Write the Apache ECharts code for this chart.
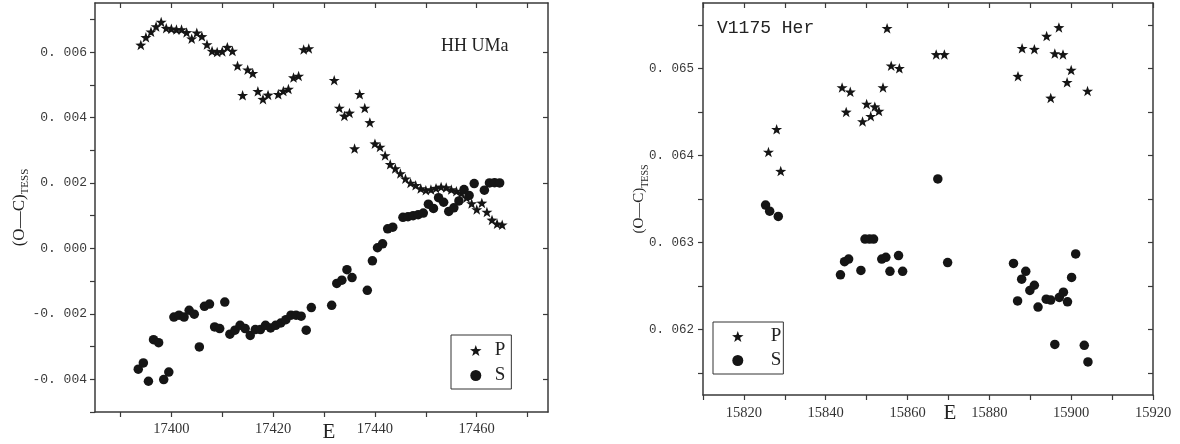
<!DOCTYPE html>
<html>
<head>
<meta charset="utf-8">
<script src="https://cdn.jsdelivr.net/npm/echarts@6/dist/echarts.min.js"></script>
<style>
  html, body { margin: 0; padding: 0; background: #fff; }
  #chart { width: 1180px; height: 444px; }
</style>
</head>
<body>
<div id="chart"></div>
<script>
// HH UMa - primary minima (stars)
const hhPrimaryE = [17394, 17395, 17396, 17397, 17398, 17399, 17400, 17401, 17402, 17403,
  17404, 17405, 17406, 17407, 17408, 17409, 17410, 17411, 17412, 17413,
  17414, 17415, 17416, 17417, 17418, 17419, 17421, 17422, 17423, 17424,
  17425, 17426, 17427, 17432, 17433, 17434, 17435, 17436, 17437, 17438,
  17439, 17440, 17441, 17442, 17443, 17444, 17445, 17446, 17447, 17448,
  17449, 17450, 17451, 17452, 17453, 17454, 17455, 17456, 17457, 17458,
  17459, 17460, 17461, 17462, 17463, 17464, 17465];
const hhPrimaryOC = [0.00622, 0.00645, 0.00662, 0.00678, 0.00692, 0.00673, 0.00671, 0.00669, 0.00669, 0.00660,
  0.00641, 0.00659, 0.00648, 0.00623, 0.00603, 0.00600, 0.00602, 0.00615, 0.00603, 0.00558,
  0.00468, 0.00546, 0.00535, 0.00480, 0.00456, 0.00469, 0.00471, 0.00481, 0.00487, 0.00522,
  0.00527, 0.00608, 0.00611, 0.00514, 0.00429, 0.00405, 0.00414, 0.00305, 0.00471, 0.00429,
  0.00385, 0.00320, 0.00310, 0.00284, 0.00257, 0.00244, 0.00229, 0.00213, 0.00200, 0.00193,
  0.00183, 0.00178, 0.00180, 0.00184, 0.00188, 0.00186, 0.00180, 0.00175, 0.00169, 0.00155,
  0.00137, 0.00119, 0.00139, 0.00111, 0.00087, 0.00075, 0.00072];

// HH UMa - secondary minima (circles)
const hhSecondaryE = [17393.5, 17394.5, 17395.5, 17396.5, 17397.5, 17398.5, 17399.5, 17400.5, 17401.5, 17402.5,
  17403.5, 17404.5, 17405.5, 17406.5, 17407.5, 17408.5, 17409.5, 17410.5, 17411.5, 17412.5,
  17413.5, 17414.5, 17415.5, 17416.5, 17417.5, 17418.5, 17419.5, 17420.5, 17421.5, 17422.5,
  17423.5, 17424.5, 17425.5, 17426.5, 17427.5, 17431.5, 17432.5, 17433.5, 17434.5, 17435.5,
  17438.5, 17439.5, 17440.5, 17441.5, 17442.5, 17443.5, 17445.5, 17446.5, 17447.5, 17448.5,
  17449.5, 17450.5, 17451.5, 17452.5, 17453.5, 17454.5, 17455.5, 17456.5, 17457.5, 17458.5,
  17459.5, 17461.5, 17462.5, 17463.5, 17464.5];
const hhSecondaryOC = [-0.00369, -0.00350, -0.00406, -0.00279, -0.00288, -0.00401, -0.00378, -0.00210, -0.00204, -0.00210,
  -0.00189, -0.00201, -0.00301, -0.00177, -0.00170, -0.00240, -0.00245, -0.00164, -0.00262, -0.00250,
  -0.00235, -0.00245, -0.00266, -0.00248, -0.00248, -0.00235, -0.00243, -0.00235, -0.00228, -0.00218,
  -0.00204, -0.00204, -0.00207, -0.00250, -0.00181, -0.00174, -0.00107, -0.00097, -0.00065, -0.00089,
  -0.00128, -0.00038, 0.00002, 0.00014, 0.00060, 0.00065, 0.00095, 0.00097, 0.00100, 0.00103,
  0.00108, 0.00135, 0.00122, 0.00155, 0.00141, 0.00113, 0.00124, 0.00145, 0.00180, 0.00162,
  0.00198, 0.00178, 0.00200, 0.00201, 0.00200];

// V1175 Her - primary minima (stars)
const herPrimaryE = [15826, 15828, 15829, 15844, 15845, 15846, 15849, 15850, 15851, 15852,
  15853, 15854, 15855, 15856, 15858, 15867, 15869, 15887, 15888, 15891,
  15894, 15895, 15896, 15897, 15898, 15899, 15900, 15904];
const herPrimaryOC = [0.06404, 0.06430, 0.06382, 0.06478, 0.06450, 0.06473, 0.06439, 0.06459, 0.06445, 0.06456,
  0.06451, 0.06478, 0.06546, 0.06503, 0.06500, 0.06516, 0.06516, 0.06491, 0.06523, 0.06522,
  0.06537, 0.06466, 0.06517, 0.06547, 0.06516, 0.06484, 0.06498, 0.06474];

// V1175 Her - secondary minima (circles)
const herSecondaryE = [15825.3, 15826.3, 15828.4, 15843.6, 15844.6, 15845.6, 15848.6, 15849.6, 15850.7, 15851.7,
  15853.7, 15854.7, 15855.7, 15857.8, 15858.8, 15867.4, 15869.8, 15885.9, 15886.9, 15887.9,
  15888.9, 15889.9, 15891.0, 15891.9, 15893.9, 15895.0, 15896.0, 15897.1, 15898.1, 15899.1,
  15900.1, 15901.1, 15903.2, 15904.1];
const herSecondaryOC = [0.06343, 0.06336, 0.06330, 0.06263, 0.06278, 0.06281, 0.06268, 0.06304, 0.06304, 0.06304,
  0.06281, 0.06283, 0.06267, 0.06285, 0.06267, 0.06373, 0.06277, 0.06276, 0.06233, 0.06258,
  0.06267, 0.06245, 0.06251, 0.06226, 0.06235, 0.06234, 0.06183, 0.06237, 0.06243, 0.06232,
  0.06260, 0.06287, 0.06182, 0.06163];

// axis ticks / labels
const hhXTicks = [17390, 17400, 17410, 17420, 17430, 17440, 17450, 17460, 17470];
const hhXLabels = [17400, 17420, 17440, 17460];
const hhYTicks = [-0.005, -0.004, -0.003, -0.002, -0.001, 0, 0.001, 0.002, 0.003, 0.004, 0.005, 0.006, 0.007];
const hhYLabels = [-0.004, -0.002, 0, 0.002, 0.004, 0.006];
const herXTicks = [15810, 15820, 15830, 15840, 15850, 15860, 15870, 15880, 15890, 15900, 15910, 15920];
const herXLabels = [15820, 15840, 15860, 15880, 15900, 15920];
const herYTicks = [0.0615, 0.062, 0.0625, 0.063, 0.0635, 0.064, 0.0645, 0.065, 0.0655];
const herYLabels = [0.062, 0.063, 0.064, 0.065];

const zip = (a, b) => a.map((v, i) => [v, b[i]]);

const STAR = 'path://M0,-10L2.35,-3.24L9.51,-3.09L3.8,1.24L5.88,8.09L0,4L-5.88,8.09L-3.8,1.24L-9.51,-3.09L-2.35,-3.24Z';
const INK = '#151515';
const AXIS = '#3a3a3a';
const SERIF = 'Liberation Serif';
const MONO = 'Liberation Mono';

const fmtY = v => v.toFixed(3).replace('.', '. ');
const fmtX = v => String(Math.round(v));

function frameAxis(opts) {
    return Object.assign({
        type: 'value',
        scale: true,
        nameMoveOverlap: false,
        axisLine: {show: true, onZero: false, lineStyle: {color: AXIS, width: 1.5}},
        splitLine: {show: false},
        axisTick: {show: true, inside: false, length: 5, lineStyle: {color: AXIS, width: 1.2}},
        axisLabel: {show: false},
    }, opts);
}

// (O-C)_TESS title, subscript done with rich text
function yName(big, small, drop) {
    return {
        name: '{a|(O—C)}{b|TESS}',
        nameLocation: 'middle',
        nameRotate: 90,
        nameTextStyle: {
            rich: {
                a: {fontFamily: SERIF, fontSize: big, color: '#222', verticalAlign: 'top', lineHeight: big + 1},
                b: {fontFamily: SERIF, fontSize: small, color: '#222', verticalAlign: 'top', padding: [drop, 0, 0, 0]}
            }
        }
    };
}

const chart = echarts.init(document.getElementById('chart'), null, {renderer: 'canvas'});

const option = {
    animation: false,
    backgroundColor: '#fff',
    grid: [
        {left: 95, top: 3, width: 453, height: 409, outerBoundsMode: 'none', containLabel: false},
        {left: 703, top: 3, width: 450, height: 392, outerBoundsMode: 'none', containLabel: false}
    ],
    title: [
        {text: 'HH UMa', left: 441, top: 37, padding: 0,
            textStyle: {fontFamily: SERIF, fontSize: 18, fontWeight: 'normal', color: '#222'}},
        {text: 'V1175 Her', left: 717, top: 19, padding: 0,
            textStyle: {fontFamily: MONO, fontSize: 18, fontWeight: 'normal', color: '#222'}}
    ],
    legend: [
        {
            data: ['P', 'S'], orient: 'vertical', left: 451, top: 335,
            padding: [6, 6, 4, 19], itemWidth: 12, itemHeight: 11, itemGap: 6,
            borderColor: '#333', borderWidth: 1, selectedMode: false,
            textStyle: {fontFamily: SERIF, fontSize: 19, lineHeight: 18, color: '#222', padding: [0, 0, 0, 8]}
        },
        {
            data: ['P', 'S'], orient: 'vertical', left: 713, top: 322,
            padding: [5, 2, 4, 19], itemWidth: 12, itemHeight: 11, itemGap: 5,
            borderColor: '#333', borderWidth: 1, selectedMode: false,
            textStyle: {fontFamily: SERIF, fontSize: 19, lineHeight: 18, color: '#222', padding: [0, 0, 0, 22]}
        }
    ],
    xAxis: [
        frameAxis({
            gridIndex: 0, position: 'bottom', min: 17385, max: 17474,
            axisTick: {show: true, length: 5, customValues: hhXTicks, lineStyle: {color: AXIS, width: 1.2}},
            axisLabel: {show: true, customValues: hhXLabels, margin: 10, fontFamily: SERIF, fontSize: 14.5, color: '#333', formatter: fmtX},
            name: 'E', nameLocation: 'middle', nameGap: 10,
            nameTextStyle: {fontFamily: SERIF, fontSize: 21, color: '#222', padding: [0, 0, 0, 15]}
        }),
        frameAxis({
            gridIndex: 0, position: 'top', min: 17385, max: 17474,
            axisTick: {show: true, inside: true, length: 5, customValues: hhXTicks, lineStyle: {color: AXIS, width: 1.2}}
        }),
        frameAxis({
            gridIndex: 1, position: 'bottom', min: 15810, max: 15920,
            axisTick: {show: true, length: 5, customValues: herXTicks, lineStyle: {color: AXIS, width: 1.2}},
            axisLabel: {show: true, customValues: herXLabels, margin: 11, fontFamily: SERIF, fontSize: 14.5, color: '#333', formatter: fmtX},
            name: 'E', nameLocation: 'middle', nameGap: 8,
            nameTextStyle: {fontFamily: SERIF, fontSize: 21, color: '#222', padding: [0, 0, 0, 44]}
        }),
        frameAxis({
            gridIndex: 1, position: 'top', min: 15810, max: 15920,
            axisTick: {show: true, inside: true, length: 5, customValues: herXTicks, lineStyle: {color: AXIS, width: 1.2}}
        })
    ],
    yAxis: [
        frameAxis(Object.assign({
            gridIndex: 0, position: 'left', min: -0.005, max: 0.0075, nameGap: 64,
            axisTick: {show: true, length: 5, customValues: hhYTicks, lineStyle: {color: AXIS, width: 1.2}},
            axisLabel: {show: true, customValues: hhYLabels, margin: 8, fontFamily: MONO, fontSize: 13, color: '#3a3a3a', formatter: fmtY}
        }, yName(17, 11, 9))),
        frameAxis({
            gridIndex: 0, position: 'right', min: -0.005, max: 0.0075,
            axisTick: {show: true, inside: true, length: 5, customValues: hhYLabels, lineStyle: {color: AXIS, width: 1.2}}
        }),
        frameAxis(Object.assign({
            gridIndex: 1, position: 'left', min: 0.06125, max: 0.06575, nameGap: 53,
            axisTick: {show: true, length: 5, customValues: herYTicks, lineStyle: {color: AXIS, width: 1.2}},
            axisLabel: {show: true, customValues: herYLabels, margin: 9, fontFamily: MONO, fontSize: 12.5, color: '#3a3a3a', formatter: fmtY}
        }, yName(15, 10, 8))),
        frameAxis({
            gridIndex: 1, position: 'right', min: 0.06125, max: 0.06575,
            axisTick: {show: true, inside: true, length: 5, customValues: herYTicks, lineStyle: {color: AXIS, width: 1.2}}
        })
    ],
    series: [
        {name: 'P', type: 'scatter', xAxisIndex: 0, yAxisIndex: 0, symbol: STAR, symbolSize: [11, 10.5],
            itemStyle: {color: INK, opacity: 1}, data: zip(hhPrimaryE, hhPrimaryOC)},
        {name: 'S', type: 'scatter', xAxisIndex: 0, yAxisIndex: 0, symbol: 'circle', symbolSize: 9.5,
            itemStyle: {color: INK, opacity: 1}, data: zip(hhSecondaryE, hhSecondaryOC)},
        {name: 'P', type: 'scatter', xAxisIndex: 2, yAxisIndex: 2, symbol: STAR, symbolSize: [11, 10.5],
            itemStyle: {color: INK, opacity: 1}, data: zip(herPrimaryE, herPrimaryOC)},
        {name: 'S', type: 'scatter', xAxisIndex: 2, yAxisIndex: 2, symbol: 'circle', symbolSize: 9.5,
            itemStyle: {color: INK, opacity: 1}, data: zip(herSecondaryE, herSecondaryOC)}
    ]
};

chart.setOption(option);
</script>
</body>
</html>
